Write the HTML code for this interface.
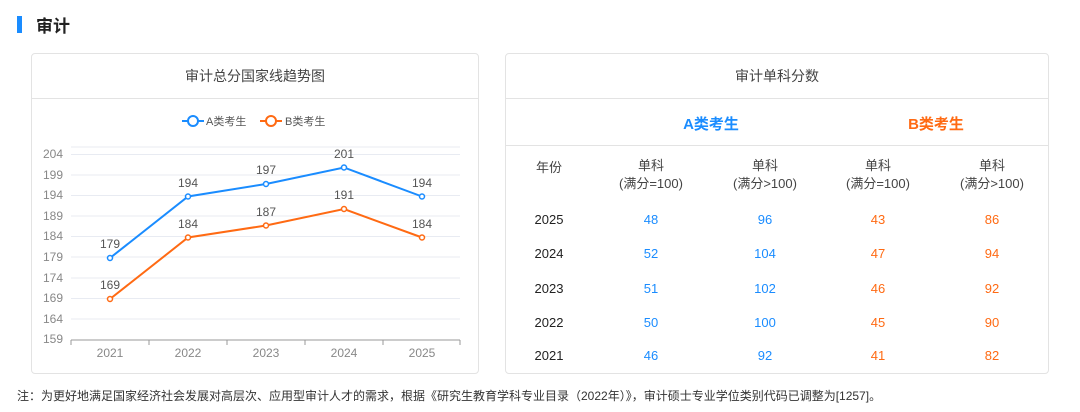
<!DOCTYPE html>
<html><head><meta charset="utf-8"><style>
body{margin:0;width:1080px;height:412px;background:#fff;font-family:"Liberation Sans","Noto Sans CJK SC",sans-serif;position:relative;overflow:hidden;color:#333}
.abs{position:absolute}
.card{position:absolute;border:1px solid #e3e3e3;border-radius:4px;background:#fff;box-sizing:border-box}
.c{text-align:center}
</style></head><body>
<div class="abs" style="left:17px;top:16px;width:5px;height:17px;background:#1a8cff"></div>
<div class="abs" style="left:36px;top:12px;font-size:17px;font-weight:bold;color:#222">审计</div>

<div class="card" style="left:31px;top:53px;width:448px;height:321px">
 <div class="c" style="height:44px;line-height:44px;font-size:14px;color:#444;border-bottom:1px solid #e3e3e3">审计总分国家线趋势图</div>
</div>
<svg class="abs" style="left:0;top:0" width="480" height="380" font-family="Liberation Sans, Noto Sans CJK SC, sans-serif">
 <g stroke="#1a8cff" stroke-width="2" fill="#fff"><line x1="182" y1="121" x2="204" y2="121"/><circle cx="193" cy="121" r="5"/></g>
 <text x="206" y="125" font-size="11" fill="#555">A类考生</text>
 <g stroke="#ff6a13" stroke-width="2" fill="#fff"><line x1="260" y1="121" x2="282" y2="121"/><circle cx="271" cy="121" r="5"/></g>
 <text x="285" y="125" font-size="11" fill="#555">B类考生</text>
 <g stroke="#e8ebf2" stroke-width="1">
  <line x1="71" y1="147" x2="460" y2="147"/>
  <line x1="71" y1="154.5" x2="460" y2="154.5"/><line x1="71" y1="175" x2="460" y2="175"/><line x1="71" y1="195.5" x2="460" y2="195.5"/><line x1="71" y1="216" x2="460" y2="216"/><line x1="71" y1="236.5" x2="460" y2="236.5"/><line x1="71" y1="257" x2="460" y2="257"/><line x1="71" y1="278" x2="460" y2="278"/><line x1="71" y1="298.5" x2="460" y2="298.5"/><line x1="71" y1="319" x2="460" y2="319"/>
 </g>
 <line x1="71" y1="340" x2="460" y2="340" stroke="#999"/>
 <g stroke="#999"><line x1="71" y1="340" x2="71" y2="345"/><line x1="149" y1="340" x2="149" y2="345"/><line x1="227" y1="340" x2="227" y2="345"/><line x1="305" y1="340" x2="305" y2="345"/><line x1="383" y1="340" x2="383" y2="345"/><line x1="460" y1="340" x2="460" y2="345"/></g>
 <g font-size="12" fill="#888" text-anchor="end">
  <text x="63" y="158">204</text><text x="63" y="179">199</text><text x="63" y="199">194</text><text x="63" y="220">189</text><text x="63" y="240">184</text><text x="63" y="261">179</text><text x="63" y="282">174</text><text x="63" y="302">169</text><text x="63" y="323">164</text><text x="63" y="343">159</text>
 </g>
 <g font-size="12" fill="#888" text-anchor="middle">
  <text x="110" y="357">2021</text><text x="188" y="357">2022</text><text x="266" y="357">2023</text><text x="344" y="357">2024</text><text x="422" y="357">2025</text>
 </g>
 <polyline fill="none" stroke="#1a8cff" stroke-width="2" points="110,258 188,196.5 266,184 344,167.5 422,196.5"/>
 <polyline fill="none" stroke="#ff6a13" stroke-width="2" points="110,299 188,237.5 266,225.5 344,209 422,237.5"/>
 <g fill="#fff" stroke="#1a8cff" stroke-width="1.5"><circle cx="110" cy="258" r="2.5"/><circle cx="188" cy="196.5" r="2.5"/><circle cx="266" cy="184" r="2.5"/><circle cx="344" cy="167.5" r="2.5"/><circle cx="422" cy="196.5" r="2.5"/></g>
 <g fill="#fff" stroke="#ff6a13" stroke-width="1.5"><circle cx="110" cy="299" r="2.5"/><circle cx="188" cy="237.5" r="2.5"/><circle cx="266" cy="225.5" r="2.5"/><circle cx="344" cy="209" r="2.5"/><circle cx="422" cy="237.5" r="2.5"/></g>
 <g font-size="12" fill="#555" text-anchor="middle">
  <text x="110" y="248">179</text><text x="188" y="187">194</text><text x="266" y="174">197</text><text x="344" y="158">201</text><text x="422" y="187">194</text>
  <text x="110" y="289">169</text><text x="188" y="228">184</text><text x="266" y="216">187</text><text x="344" y="199">191</text><text x="422" y="228">184</text>
 </g>
</svg>

<div class="card" style="left:505px;top:53px;width:544px;height:321px">
 <div class="c" style="height:44px;line-height:44px;font-size:14px;color:#444;border-bottom:1px solid #e3e3e3">审计单科分数</div>
 <div style="height:46px;border-bottom:1px solid #e3e3e3;position:relative;font-size:15px;font-weight:bold">
  <div class="abs c" style="left:145px;width:120px;top:14px;color:#1a8cff">A类考生</div>
  <div class="abs c" style="left:370px;width:120px;top:14px;color:#ff6a13">B类考生</div>
 </div>
</div>
<div class="abs" style="left:0;top:0;font-size:13px;color:#444">
 <div class="abs c" style="left:519px;width:60px;top:157px">年份</div>
 <div class="abs c" style="left:596px;width:110px;top:157px;line-height:18px">单科<br>(满分=100)</div>
 <div class="abs c" style="left:710px;width:110px;top:157px;line-height:18px">单科<br>(满分&gt;100)</div>
 <div class="abs c" style="left:823px;width:110px;top:157px;line-height:18px">单科<br>(满分=100)</div>
 <div class="abs c" style="left:937px;width:110px;top:157px;line-height:18px">单科<br>(满分&gt;100)</div>
</div>
<div class="abs" style="left:0;top:0;font-size:13px">
 <div class="abs c" style="left:519px;width:60px;top:212px;color:#222">2025</div><div class="abs c" style="left:621px;width:60px;top:212px;color:#1a8cff">48</div><div class="abs c" style="left:735px;width:60px;top:212px;color:#1a8cff">96</div><div class="abs c" style="left:848px;width:60px;top:212px;color:#ff6a13">43</div><div class="abs c" style="left:962px;width:60px;top:212px;color:#ff6a13">86</div>
 <div class="abs c" style="left:519px;width:60px;top:246px;color:#222">2024</div><div class="abs c" style="left:621px;width:60px;top:246px;color:#1a8cff">52</div><div class="abs c" style="left:735px;width:60px;top:246px;color:#1a8cff">104</div><div class="abs c" style="left:848px;width:60px;top:246px;color:#ff6a13">47</div><div class="abs c" style="left:962px;width:60px;top:246px;color:#ff6a13">94</div>
 <div class="abs c" style="left:519px;width:60px;top:281px;color:#222">2023</div><div class="abs c" style="left:621px;width:60px;top:281px;color:#1a8cff">51</div><div class="abs c" style="left:735px;width:60px;top:281px;color:#1a8cff">102</div><div class="abs c" style="left:848px;width:60px;top:281px;color:#ff6a13">46</div><div class="abs c" style="left:962px;width:60px;top:281px;color:#ff6a13">92</div>
 <div class="abs c" style="left:519px;width:60px;top:315px;color:#222">2022</div><div class="abs c" style="left:621px;width:60px;top:315px;color:#1a8cff">50</div><div class="abs c" style="left:735px;width:60px;top:315px;color:#1a8cff">100</div><div class="abs c" style="left:848px;width:60px;top:315px;color:#ff6a13">45</div><div class="abs c" style="left:962px;width:60px;top:315px;color:#ff6a13">90</div>
 <div class="abs c" style="left:519px;width:60px;top:348px;color:#222">2021</div><div class="abs c" style="left:621px;width:60px;top:348px;color:#1a8cff">46</div><div class="abs c" style="left:735px;width:60px;top:348px;color:#1a8cff">92</div><div class="abs c" style="left:848px;width:60px;top:348px;color:#ff6a13">41</div><div class="abs c" style="left:962px;width:60px;top:348px;color:#ff6a13">82</div>
</div>
<div class="abs" style="left:17px;top:387px;font-size:12px;color:#333;white-space:nowrap">注：为更好地满足国家经济社会发展对高层次、应用型审计人才的需求，根据《研究生教育学科专业目录（2022年）》，审计硕士专业学位类别代码已调整为[1257]。</div>
</body></html>
